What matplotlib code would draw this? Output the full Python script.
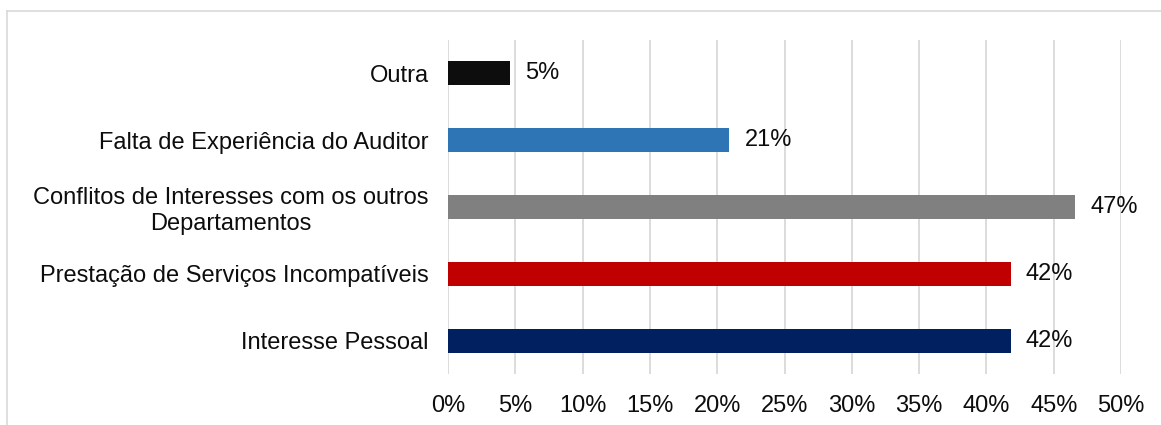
import matplotlib.pyplot as plt
from matplotlib.lines import Line2D
from matplotlib.ticker import PercentFormatter

# Categories listed from bottom to top
categories = ['Interesse Pessoal',
              'Prestação de Serviços Incompatíveis',
              'Conflitos de Interesses com os outros\nDepartamentos',
              'Falta de Experiência do Auditor',
              'Outra']
values = [0.418, 0.418, 0.466, 0.209, 0.046]
labels = ['42%', '42%', '47%', '21%', '5%']
colors = ['#002060', '#c00000', '#808080', '#2e75b6', '#0d0d0d']
ticks = [0, 0.05, 0.10, 0.15, 0.20, 0.25, 0.30, 0.35, 0.40, 0.45, 0.50]

plt.rcParams['font.family'] = ['Liberation Sans', 'DejaVu Sans']

fig = plt.figure(figsize=(11.61, 4.25), dpi=100)
ax = fig.add_axes([448 / 1161, 51 / 425, 673 / 1161, 334 / 425])

y = range(len(categories))
bars = ax.barh(y, values, height=0.36, color=colors, zorder=3)
ax.bar_label(bars, labels=labels, padding=11, fontsize=17, color='#0d0d0d')

ax.set_xlim(0, 0.5)
ax.set_ylim(-0.5, len(categories) - 0.5)
ax.set_xticks(ticks)
ax.xaxis.set_major_formatter(PercentFormatter(1.0, decimals=0))
ax.set_yticks(list(y))
ax.set_yticklabels(categories)
for lab in ax.get_yticklabels():
    lab.set_multialignment('center')

ax.tick_params(axis='both', length=0, labelsize=17, colors='#0d0d0d')
ax.tick_params(axis='y', pad=14)
ax.tick_params(axis='x', pad=15)
ax.grid(axis='x', color='#d9d9d9', linewidth=1.3, zorder=0)
for s in ax.spines.values():
    s.set_visible(False)

# chart area border (cropped on right and bottom)
fig.add_artist(Line2D([7 / 1161, 1], [1 - 11 / 425, 1 - 11 / 425],
                      transform=fig.transFigure, color='#d9d9d9', linewidth=1.2))
fig.add_artist(Line2D([7 / 1161, 7 / 1161], [0, 1 - 11 / 425],
                      transform=fig.transFigure, color='#d9d9d9', linewidth=1.2))

fig.savefig('out.png', dpi=100)
